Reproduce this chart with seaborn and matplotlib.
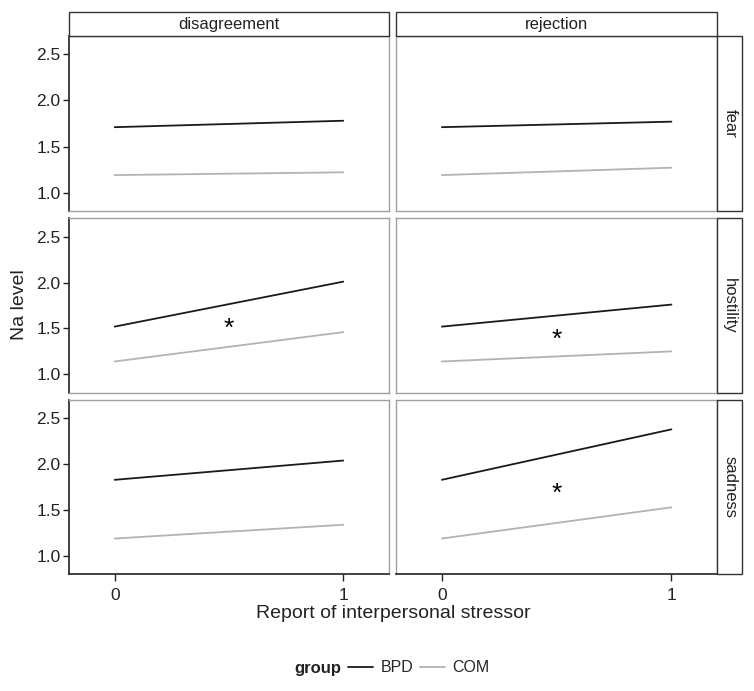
import numpy as np
import pandas as pd
import matplotlib
matplotlib.use("Agg")
import matplotlib.pyplot as plt
from matplotlib.patches import Rectangle
from matplotlib.lines import Line2D
import seaborn as sns

# ---- data ----
stressors = ["disagreement", "rejection"]
emotions = ["fear", "hostility", "sadness"]
groups = ["BPD", "COM"]
x_vals = [0, 1]
# values at x=0 and x=1 for each (emotion, stressor, group)
bpd_disagreement = {"fear": [1.71, 1.78], "hostility": [1.52, 2.01], "sadness": [1.83, 2.04]}
bpd_rejection = {"fear": [1.71, 1.77], "hostility": [1.52, 1.76], "sadness": [1.83, 2.38]}
com_disagreement = {"fear": [1.19, 1.22], "hostility": [1.14, 1.46], "sadness": [1.19, 1.34]}
com_rejection = {"fear": [1.19, 1.27], "hostility": [1.14, 1.25], "sadness": [1.19, 1.53]}
# significance markers: (emotion, stressor, x, y)
star_emotions = ["hostility", "hostility", "sadness"]
star_stressors = ["disagreement", "rejection", "rejection"]
star_x = [0.5, 0.5, 0.5]
star_y = [1.50, 1.38, 1.68]
y_ticks = [1.0, 1.5, 2.0, 2.5]
x_ticks = [0, 1]

tables = {("BPD", "disagreement"): bpd_disagreement, ("BPD", "rejection"): bpd_rejection,
          ("COM", "disagreement"): com_disagreement, ("COM", "rejection"): com_rejection}
rows = []
for (g, s), d in tables.items():
    for e in emotions:
        for xv, yv in zip(x_vals, d[e]):
            rows.append(dict(group=g, stressor=s, emotion=e, x=xv, y=yv))
df = pd.DataFrame(rows)

sns.set_theme(style="white")
plt.rcParams["font.family"] = ["Liberation Sans", "DejaVu Sans"]

palette = {"BPD": "#1a1a1a", "COM": "#b3b3b3"}
g = sns.FacetGrid(df, row="emotion", col="stressor", row_order=emotions, col_order=stressors,
                  height=2.3, aspect=1.4, sharex=True, sharey=True, despine=False)
g.map_dataframe(sns.lineplot, x="x", y="y", hue="group", hue_order=groups, palette=palette,
                linewidth=1.3, estimator=None, legend=False)
fig = g.figure
fig.set_size_inches(7.54, 6.91)

W, H = 754, 691
col_x = [(69, 389), (396, 717.3)]
row_y = [(36, 211), (218.3, 392.7), (400, 574.3)]

for i, e in enumerate(emotions):
    for j, s in enumerate(stressors):
        ax = g.axes[i, j]
        x0, x1 = col_x[j]
        y0, y1 = row_y[i]
        ax.set_position([x0 / W, 1 - y1 / H, (x1 - x0) / W, (y1 - y0) / H])
        ax.set_title("")
        ax.set_xlabel("")
        ax.set_ylabel("")
        ax.set_xlim(-0.2, 1.2)
        ax.set_ylim(0.8, 2.7)
        ax.set_xticks(x_ticks)
        ax.set_yticks(y_ticks)
        for sp in ax.spines.values():
            sp.set_color("#a0a0a0")
            sp.set_linewidth(1.0)
        ax.tick_params(axis="both", labelsize=12.5, labelcolor="#222222",
                       left=False, bottom=False, top=False, right=False)
        if j == 0:
            ax.spines["left"].set_color("#222222")
            ax.spines["left"].set_linewidth(1.2)
            ax.tick_params(axis="y", left=True, length=4, width=1, color="#222222",
                           pad=2, labelleft=True)
            ax.set_yticklabels([f"{v:.1f}" for v in y_ticks])
        else:
            ax.tick_params(axis="y", labelleft=False)
        if i == len(emotions) - 1:
            ax.spines["bottom"].set_color("#222222")
            ax.spines["bottom"].set_linewidth(1.2)
            ax.tick_params(axis="x", bottom=True, length=5, width=1, color="#222222",
                           pad=5, labelbottom=True)
            ax.set_xticklabels([str(v) for v in x_ticks])
        else:
            ax.tick_params(axis="x", labelbottom=False)

# stars
for e, s, sx, sy in zip(star_emotions, star_stressors, star_x, star_y):
    ax = g.axes[emotions.index(e), stressors.index(s)]
    ax.text(sx, sy, "*", ha="center", va="center", fontsize=19, color="black")

# column strips
for j, s in enumerate(stressors):
    x0, x1 = col_x[j]
    fig.patches.append(Rectangle((x0 / W, 1 - 36 / H), (x1 - x0) / W, 24 / H,
                                 transform=fig.transFigure, facecolor="white",
                                 edgecolor="#333333", linewidth=1.0))
    fig.text((x0 + x1) / 2 / W, 1 - 24 / H, s, ha="center", va="center", fontsize=12, color="#222222")

# row strips
for i, e in enumerate(emotions):
    y0, y1 = row_y[i]
    fig.patches.append(Rectangle((717.3 / W, 1 - y1 / H), 25 / W, (y1 - y0) / H,
                                 transform=fig.transFigure, facecolor="white",
                                 edgecolor="#333333", linewidth=1.0))
    fig.text(729.8 / W, 1 - (y0 + y1) / 2 / H, e, ha="center", va="center", rotation=-90,
             fontsize=12, color="#222222")

fig.text(393 / W, 1 - 614 / H, "Report of interpersonal stressor", ha="center", va="center",
         fontsize=14, color="#222222")
fig.text(20 / W, 1 - 305 / H, "Na level", ha="center", va="center", rotation=90,
         fontsize=14, color="#222222")

# legend
handles = [Line2D([], [], color=palette[k], linewidth=1.3) for k in groups]
fig.legend(handles, groups, loc="center left", bbox_to_anchor=(348 / W, 1 - 668 / H), ncol=2,
           frameon=False, fontsize=11.5, handlelength=1.55, handletextpad=0.5,
           columnspacing=0.4, borderpad=0, borderaxespad=0)
fig.text(341 / W, 1 - 668 / H, "group", ha="right", va="center", fontsize=12,
         fontweight="bold", color="#222222")

fig.savefig("out.png", dpi=100)
